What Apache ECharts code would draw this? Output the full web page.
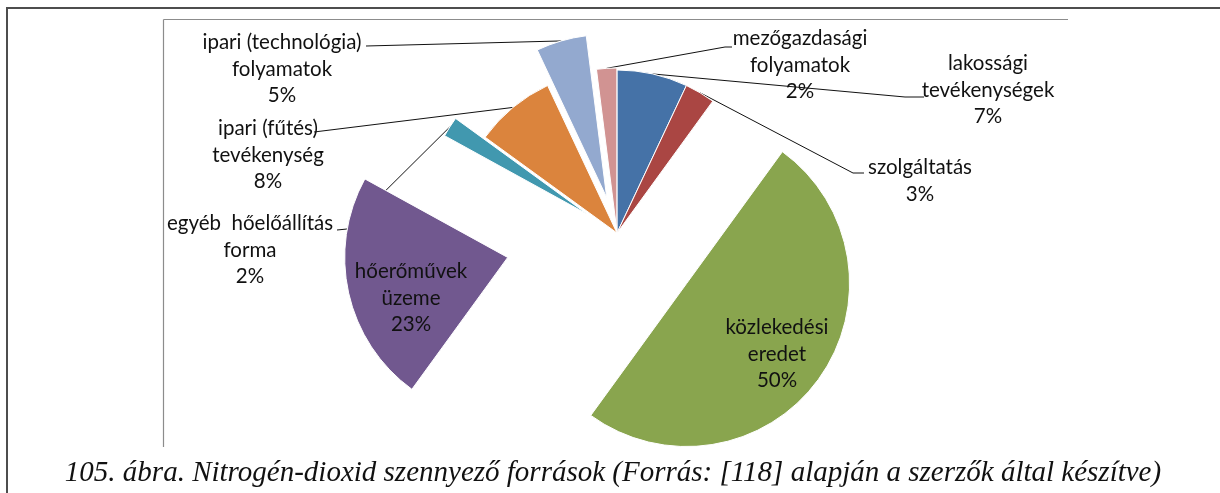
<!DOCTYPE html>
<html>
<head>
<meta charset="utf-8">
<script src="https://cdn.jsdelivr.net/npm/echarts@6/dist/echarts.min.js"></script>
<style>
  html, body { margin: 0; padding: 0; background: #fff; }
  #chart { width: 1220px; height: 493px; }
</style>
</head>
<body>
<div id="chart"></div>
<script>
// Sources of nitrogen-dioxide emission, share of the total (%)
const categories = [
  'lakossági\ntevékenységek',
  'szolgáltatás',
  'közlekedési\neredet',
  'hőerőművek\nüzeme',
  'egyéb  hőelőállítás\nforma',
  'ipari (fűtés)\ntevékenység',
  'ipari (technológia)\nfolyamatok',
  'mezőgazdasági\nfolyamatok'
];
const shares = [7, 3, 50, 23, 2, 8, 5, 2];
const caption = '105. ábra. Nitrogén-dioxid szennyező források (Forrás: [118] alapján a szerzők által készítve)';

// ---- styling and layout ----
const colors = ['#4572A7', '#AA4643', '#89A54E', '#71588F', '#4198AF', '#DB843D', '#93A9CF', '#D19392'];
const explode = [0, 0, 86, 112, 35, 0, 37, 2];      // px each slice is pulled out
const CX = 617, CY = 233, R = 163;                   // pie centre and radius
// label block centre; a = where the leader meets the text, b = bend point
const labelPlace = [
  { x: 988, y: 90,  a: [924, 97],  b: [905, 97] },
  { x: 920, y: 181, a: [864, 173], b: [853, 173] },
  { x: 777, y: 354 },
  { x: 411, y: 298 },
  { x: 250, y: 250, a: [337, 230], b: [347, 229] },
  { x: 268, y: 155, a: [314, 132], b: [314, 132] },
  { x: 282, y: 69,  a: [366, 46],  b: [366, 46] },
  { x: 800, y: 65,  a: [732, 47],  b: [725, 47] }
];
const FONT = 'Lato';

const total = shares.reduce((s, v) => s + v, 0);
// mid angle of each slice, clockwise from 12 o'clock
const midAngles = [];
let acc = 0;
shares.forEach(v => { midAngles.push(2 * Math.PI * (acc + v / 2) / total); acc += v; });

function sliceCentre(i) {
  const t = midAngles[i];
  return [CX + explode[i] * Math.sin(t), CY - explode[i] * Math.cos(t)];
}
function arcPoint(i) {
  const t = midAngles[i], c = sliceCentre(i);
  return [c[0] + R * Math.sin(t), c[1] - R * Math.cos(t)];
}

// one pie per slice so that each can be pulled out by its own distance;
// every pie holds all the values so the angles stay the same
const series = categories.map((_, k) => ({
  type: 'pie',
  center: sliceCentre(k),
  radius: R,
  startAngle: 90,
  clockwise: true,
  avoidLabelOverlap: false,
  percentPrecision: 0,
  silent: true,
  emphasis: { disabled: true },
  z: 2,
  data: categories.map((name, i) => {
    const own = i === k;
    const inside = !labelPlace[i].a;
    return {
      name: name,
      value: shares[i],
      itemStyle: own
        ? { color: colors[i], borderColor: '#fff', borderWidth: 1 }
        : { color: colors[i], opacity: 0, borderWidth: 0 },
      label: { show: own, position: inside ? 'inside' : 'outside' },
      labelLine: { show: own && !inside }
    };
  }),
  label: {
    formatter: '{b}\n{d}%',
    fontFamily: FONT,
    fontSize: 20.5,
    lineHeight: 26.5,
    color: '#111',
    align: 'center'
  },
  labelLine: { lineStyle: { color: '#111', width: 1 } },
  labelLayout: function (p) {
    const i = p.dataIndex;
    const pl = labelPlace[i];
    const out = { x: pl.x, y: pl.y, align: 'center', verticalAlign: 'middle' };
    if (pl.a) out.labelLinePoints = [pl.a.slice(), pl.b.slice(), arcPoint(i)];
    return out;
  }
}));

const chart = echarts.init(document.getElementById('chart'), null, { renderer: 'canvas' });
chart.setOption({
  animation: false,
  backgroundColor: '#fff',
  series: series,
  graphic: [
    // chart area edge: everything below it is cut off
    { type: 'rect', z: 50, shape: { x: 150, y: 448, width: 1070, height: 45 }, style: { fill: '#fff' } },
    { type: 'line', z: 60, shape: { x1: 163.5, y1: 19.5, x2: 1068, y2: 19.5 }, style: { stroke: '#8c8c8c', lineWidth: 1.2 } },
    { type: 'line', z: 60, shape: { x1: 163.5, y1: 19.5, x2: 163.5, y2: 447 }, style: { stroke: '#8c8c8c', lineWidth: 1.2 } },
    // page frame
    { type: 'line', z: 60, shape: { x1: 6, y1: 8, x2: 1220, y2: 8 }, style: { stroke: '#4d4d4d', lineWidth: 2 } },
    { type: 'line', z: 60, shape: { x1: 7, y1: 7, x2: 7, y2: 493 }, style: { stroke: '#4d4d4d', lineWidth: 2 } },
    {
      type: 'text', z: 60, x: 613, y: 473,
      style: {
        text: caption,
        font: 'italic 29px "Liberation Serif"',
        fill: '#111',
        textAlign: 'center',
        textVerticalAlign: 'middle'
      }
    }
  ]
});
</script>
</body>
</html>
